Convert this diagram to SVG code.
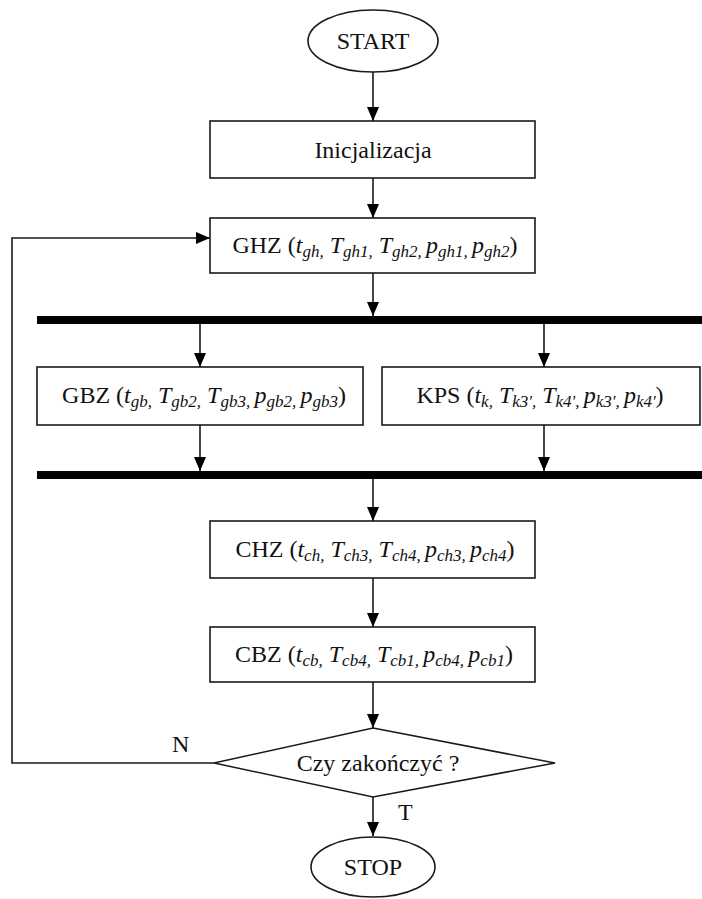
<svg xmlns="http://www.w3.org/2000/svg" width="702" height="899" viewBox="0 0 702 899">
  <defs>
    <marker id="arrowB" viewBox="0 0 14 12" refX="14" refY="6" markerWidth="14" markerHeight="12" markerUnits="userSpaceOnUse" orient="auto">
      <path d="M0,0 L14,6 L0,12 Z" fill="#000"/>
    </marker>
  </defs>
  <style>
    .shape { fill: #fff; stroke: #1a1a1a; stroke-width: 1.6; }
    .link { fill: none; stroke: #1a1a1a; stroke-width: 1.6; marker-end: url(#arrowB); }
    .bar { fill: #000; }
    .lbl { font-family: "Liberation Serif", "Times New Roman", serif; font-size: 24px; fill: #111; }
    .i { font-style: italic; }
    .s { font-style: italic; font-size: 17px; }
  </style>
  <rect width="702" height="899" fill="#fff"/>

  <!-- connectors -->
  <g id="connectors">
    <line class="link" x1="373" y1="72" x2="373" y2="121"/>
    <line class="link" x1="373" y1="178" x2="373" y2="218"/>
    <line class="link" x1="373" y1="273" x2="373" y2="316"/>
    <line class="link" x1="200" y1="324" x2="200" y2="367"/>
    <line class="link" x1="544" y1="324" x2="544" y2="367"/>
    <line class="link" x1="200" y1="425" x2="200" y2="471"/>
    <line class="link" x1="544" y1="425" x2="544" y2="471"/>
    <line class="link" x1="373" y1="479" x2="373" y2="521"/>
    <line class="link" x1="373" y1="578" x2="373" y2="627"/>
    <line class="link" x1="373" y1="682" x2="373" y2="728"/>
    <line class="link" x1="373" y1="797" x2="373" y2="836"/>
    <polyline class="link" points="214,763 12,763 12,238 210,238"/>
    <rect class="bar" x="37" y="316" width="665" height="8"/>
    <rect class="bar" x="37" y="471" width="665" height="8"/>
    <text class="lbl" x="172" y="752">N</text>
    <text class="lbl" x="398" y="820">T</text>
  </g>

  <g id="start">
    <ellipse class="shape" cx="373" cy="41" rx="65" ry="31"/>
    <text class="lbl" x="373" y="49" text-anchor="middle">START</text>
  </g>

  <g id="init">
    <rect class="shape" x="210" y="121" width="325" height="57"/>
    <text class="lbl" x="373" y="158" text-anchor="middle">Inicjalizacja</text>
  </g>

  <g id="ghz">
    <rect class="shape" x="210" y="218" width="325" height="55"/>
    <text class="lbl" x="375" y="253" text-anchor="middle">GHZ (<tspan class="i">t</tspan><tspan class="s" dy="4">gh,</tspan><tspan dy="-4"> </tspan><tspan class="i">T</tspan><tspan class="s" dy="4">gh1,</tspan><tspan dy="-4"> </tspan><tspan class="i">T</tspan><tspan class="s" dy="4">gh2, </tspan><tspan class="i" dy="-4">p</tspan><tspan class="s" dy="4">gh1, </tspan><tspan class="i" dy="-4">p</tspan><tspan class="s" dy="4">gh2</tspan><tspan dy="-4">)</tspan></text>
  </g>

  <g id="gbz">
    <rect class="shape" x="37" y="367" width="326" height="58"/>
    <text class="lbl" x="204" y="403" text-anchor="middle">GBZ (<tspan class="i">t</tspan><tspan class="s" dy="4">gb,</tspan><tspan dy="-4"> </tspan><tspan class="i">T</tspan><tspan class="s" dy="4">gb2,</tspan><tspan dy="-4"> </tspan><tspan class="i">T</tspan><tspan class="s" dy="4">gb3, </tspan><tspan class="i" dy="-4">p</tspan><tspan class="s" dy="4">gb2, </tspan><tspan class="i" dy="-4">p</tspan><tspan class="s" dy="4">gb3</tspan><tspan dy="-4">)</tspan></text>
  </g>

  <g id="kps">
    <rect class="shape" x="382" y="367" width="318" height="58"/>
    <text class="lbl" x="540" y="403" text-anchor="middle">KPS (<tspan class="i">t</tspan><tspan class="s" dy="4">k,</tspan><tspan dy="-4"> </tspan><tspan class="i">T</tspan><tspan class="s" dy="4">k3',</tspan><tspan dy="-4"> </tspan><tspan class="i">T</tspan><tspan class="s" dy="4">k4', </tspan><tspan class="i" dy="-4">p</tspan><tspan class="s" dy="4">k3', </tspan><tspan class="i" dy="-4">p</tspan><tspan class="s" dy="4">k4'</tspan><tspan dy="-4">)</tspan></text>
  </g>

  <g id="chz">
    <rect class="shape" x="210" y="521" width="325" height="57"/>
    <text class="lbl" x="375" y="557" text-anchor="middle">CHZ (<tspan class="i">t</tspan><tspan class="s" dy="4">ch,</tspan><tspan dy="-4"> </tspan><tspan class="i">T</tspan><tspan class="s" dy="4">ch3,</tspan><tspan dy="-4"> </tspan><tspan class="i">T</tspan><tspan class="s" dy="4">ch4, </tspan><tspan class="i" dy="-4">p</tspan><tspan class="s" dy="4">ch3, </tspan><tspan class="i" dy="-4">p</tspan><tspan class="s" dy="4">ch4</tspan><tspan dy="-4">)</tspan></text>
  </g>

  <g id="cbz">
    <rect class="shape" x="210" y="627" width="325" height="55"/>
    <text class="lbl" x="374" y="662" text-anchor="middle">CBZ (<tspan class="i">t</tspan><tspan class="s" dy="4">cb,</tspan><tspan dy="-4"> </tspan><tspan class="i">T</tspan><tspan class="s" dy="4">cb4,</tspan><tspan dy="-4"> </tspan><tspan class="i">T</tspan><tspan class="s" dy="4">cb1, </tspan><tspan class="i" dy="-4">p</tspan><tspan class="s" dy="4">cb4, </tspan><tspan class="i" dy="-4">p</tspan><tspan class="s" dy="4">cb1</tspan><tspan dy="-4">)</tspan></text>
  </g>

  <g id="decision">
    <polygon class="shape" points="373,728 555,763 373,797 214,763"/>
    <text class="lbl" x="378" y="771" text-anchor="middle">Czy zakończyć ?</text>
  </g>

  <g id="stop">
    <ellipse class="shape" cx="373" cy="867" rx="62" ry="30"/>
    <text class="lbl" x="373" y="875" text-anchor="middle">STOP</text>
  </g>
</svg>
